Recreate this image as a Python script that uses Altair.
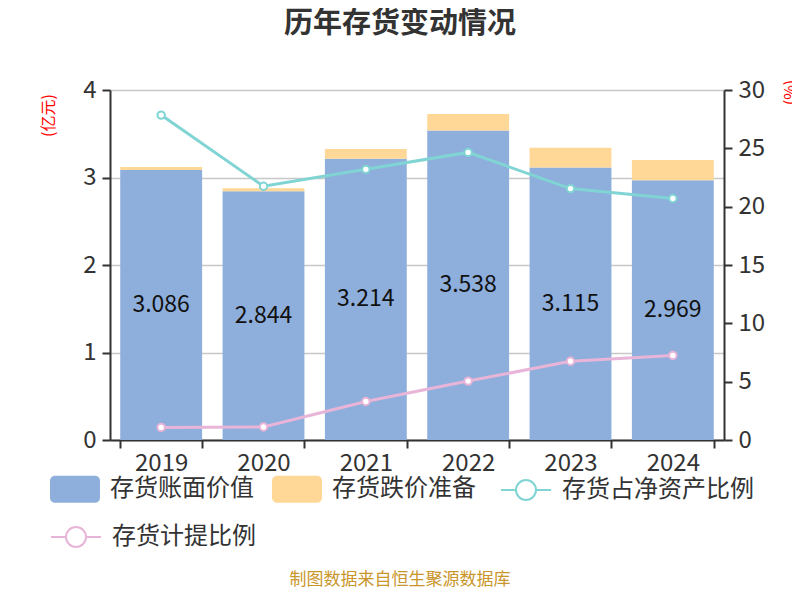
import altair as alt
import pandas as pd

years = ["2019", "2020", "2021", "2022", "2023", "2024"]
book_value = [3.086, 2.844, 3.214, 3.538, 3.115, 2.969]
impairment = [0.034, 0.032, 0.112, 0.188, 0.225, 0.232]
ratio_net_assets = [27.85, 21.75, 23.2, 24.65, 21.55, 20.7]
ratio_provision = [1.08, 1.12, 3.3, 5.05, 6.75, 7.25]

bar_series = ["存货账面价值", "存货跌价准备"]
line1_name = "存货占净资产比例"
line2_name = "存货计提比例"
left_ticks = [0, 1, 2, 3, 4]
right_ticks = [0, 5, 10, 15, 20, 25, 30]

FONT = "Noto Sans CJK SC"
TXT = "#333333"
BLUE = "#8EAEDB"
ORANGE = "#FFD897"
CYAN = "#80D4D4"
PINK = "#E8B5D8"

wide = pd.DataFrame({
    "year": years,
    "book": book_value,
    "imp": impairment,
    "r1": ratio_net_assets,
    "r2": ratio_provision,
})
rows = []
for y, b, i in zip(years, book_value, impairment):
    rows.append({"year": y, "series": bar_series[0], "value": b, "ord": 0})
    rows.append({"year": y, "series": bar_series[1], "value": i, "ord": 1})
bar_df = pd.DataFrame(rows)

RECT = ("M-0.8,-0.54H0.8A0.2,0.2 0 0 1 1,-0.34V0.34A0.2,0.2 0 0 1 0.8,0.54"
        "H-0.8A0.2,0.2 0 0 1 -1,0.34V-0.34A0.2,0.2 0 0 1 -0.8,-0.54Z")
LINESYM = ("M-1,0L-0.4,0M0.4,0L1,0M-0.4,0A0.4,0.4 0 1 1 0.4,0"
           "A0.4,0.4 0 1 1 -0.4,0Z")

x_enc = alt.X(
    "year:N", sort=years,
    scale=alt.Scale(paddingInner=0.2, paddingOuter=0.1),
    axis=alt.Axis(title=None, labelAngle=0, tickBand="extent",
                  labelFontSize=24, labelColor=TXT, labelFont=FONT,
                  domainColor=TXT, domainWidth=2, tickColor=TXT, tickWidth=2,
                  tickSize=8, labelPadding=3),
)

left_axis = alt.Axis(
    values=left_ticks, title="(亿元)", titleColor="#ff0000", titleFont=FONT,
    titleFontSize=16, titleFontWeight="normal", titleAngle=-90, titleX=-62,
    titleY=25, titleAlign="center", titleBaseline="middle",
    labelFontSize=24, labelColor=TXT, labelFont=FONT, labelPadding=6,
    domainColor=TXT, domainWidth=2, tickColor=TXT, tickWidth=2, tickSize=8,
    grid=True, gridColor="#c8c8c8", gridWidth=1.5,
)

bars = alt.Chart(bar_df).mark_bar().encode(
    x=x_enc,
    y=alt.Y("value:Q", stack="zero", scale=alt.Scale(domain=[0, 4]),
            axis=left_axis),
    color=alt.Color(
        "series:N",
        scale=alt.Scale(domain=bar_series, range=[BLUE, ORANGE]),
        legend=alt.Legend(
            title=None, orient="none", legendX=-60, legendY=374,
            direction="horizontal", symbolType=RECT, symbolSize=2500,
            symbolStrokeWidth=0, labelFontSize=24, labelFont=FONT,
            labelColor=TXT, labelOffset=10, columnPadding=18, labelLimit=400,
        ),
    ),
    order=alt.Order("ord:Q"),
)

labels = alt.Chart(wide).transform_calculate(
    mid="datum.book / 2", lbl="format(datum.book, '.3f')"
).mark_text(fontSize=23, font=FONT, color="#111111", baseline="middle").encode(
    x=x_enc,
    y=alt.Y("mid:Q", scale=alt.Scale(domain=[0, 4]), axis=left_axis),
    text="lbl:N",
)

right_axis = alt.Axis(
    orient="right", values=right_ticks, title="(%)", titleColor="#ff0000",
    titleFont=FONT, titleFontSize=16, titleFontWeight="normal",
    titleAngle=-90, titleX=66, titleY=2, titleAlign="center",
    titleBaseline="middle", labelFontSize=24, labelColor=TXT, labelFont=FONT,
    labelPadding=6, domainColor=TXT, domainWidth=2, tickColor=TXT,
    tickWidth=2, tickSize=8, grid=False,
)


def line_layer(field, name, color, lx, ly):
    return alt.Chart(wide).transform_calculate(
        s=f"'{name}'"
    ).mark_line(
        strokeWidth=3,
        point=alt.OverlayMarkDef(filled=True, fill="white", size=55,
                                 strokeWidth=2),
    ).encode(
        x=x_enc,
        y=alt.Y(f"{field}:Q", scale=alt.Scale(domain=[0, 30]),
                axis=right_axis),
        stroke=alt.Stroke(
            "s:N",
            scale=alt.Scale(domain=[name], range=[color]),
            legend=alt.Legend(
                title=None, orient="none", legendX=lx, legendY=ly,
                symbolType=LINESYM, symbolSize=2500, symbolStrokeWidth=2,
                symbolFillColor="white", labelFontSize=24, labelFont=FONT,
                labelColor=TXT, labelOffset=10, labelLimit=400,
            ),
        ),
    )


line1 = line_layer("r1", line1_name, CYAN, 390, 374)
line2 = line_layer("r2", line2_name, PINK, -60, 421)

lines = alt.layer(line1, line2).resolve_scale(stroke="independent")

caption = alt.Chart(pd.DataFrame({"t": ["制图数据来自恒生聚源数据库"]})).mark_text(
    font=FONT, fontSize=17, color="#C9962B", baseline="middle", align="center"
).encode(x=alt.value(290), y=alt.value(490), text="t:N")

chart = alt.layer(
    alt.layer(bars, labels), lines, caption
).resolve_scale(
    y="independent", stroke="independent"
).properties(
    width=614, height=350,
    autosize=alt.AutoSizeParams(type="none"),
    padding={"left": 102, "top": 82, "right": 68, "bottom": 150},
    title=alt.TitleParams(
        "历年存货变动情况", fontSize=29, fontWeight="bold", font=FONT,
        color=TXT, anchor="middle", dx=-17, offset=16, baseline="alphabetic",
    ),
).configure_view(stroke=None)

chart.save("out.html", embed_options={"renderer": "svg", "actions": False})
